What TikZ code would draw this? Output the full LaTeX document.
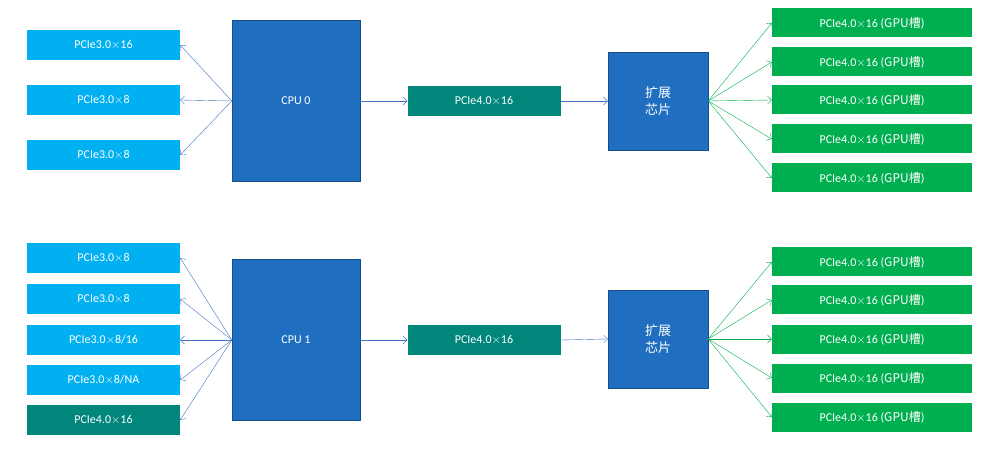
\documentclass[tikz,border=0pt]{standalone}
\usepackage{fontspec}
\setmainfont{Carlito}
\newfontfamily\cjk{Noto Sans CJK SC}
\usetikzlibrary{arrows.meta}
\definecolor{skyblue}{RGB}{0,176,240}
\definecolor{tealbox}{RGB}{0,134,122}
\definecolor{cpublue}{RGB}{32,110,192}
\definecolor{gpugreen}{RGB}{0,176,80}
\definecolor{linkblue}{RGB}{68,114,196}
\tikzset{
every node/.style={text=white, font=\fontsize{12}{14}\selectfont, inner sep=0pt},
slotnode/.style={rectangle, fill=skyblue, minimum width=153pt, minimum height=30pt},
tealnode/.style={rectangle, fill=tealbox, minimum width=153pt, minimum height=30pt},
cpunode/.style={rectangle, draw=cpublue!70!black, fill=cpublue, minimum width=128pt, minimum height=161pt},
chipnode/.style={rectangle, draw=cpublue!70!black, fill=cpublue, minimum width=100pt, minimum height=98pt, align=center, font=\cjk\fontsize{13}{17}\selectfont},
gpunode/.style={rectangle, fill=gpugreen, minimum width=200pt, minimum height=29pt},
bluelink/.style={draw=linkblue, thin, -{Straight Barb[length=4pt,width=8pt]}},
greenlink/.style={draw=gpugreen, thin, -{Straight Barb[length=4pt,width=8pt]}}
}
\newcommand{\gpulabel}{PCIe4.0$\times$16 ({\cjk GPU槽})}
\begin{document}
\begin{tikzpicture}[x=1pt, y=-1pt]
\useasboundingbox (0,0) rectangle (994,457);
%Top group
\node [cpunode] (CPU0) at (296,101) {CPU 0};
\node [slotnode] (Ta) at (103.5,45) {PCIe3.0$\times$16};
\node [slotnode] (Tb) at (103.5,100) {PCIe3.0$\times$8};
\node [slotnode] (Tc) at (103.5,155) {PCIe3.0$\times$8};
\node [tealnode] (Tlink) at (484,101) {PCIe4.0$\times$16};
\node [chipnode] (Tchip) at (658,101) {扩展\\芯片};
\foreach \i/\y in {1/23,2/62,3/100,4/139,5/178}
  \node [gpunode] (TG\i) at (872,\y) {\gpulabel};

%Bottom group
\node [cpunode] (CPU1) at (296,340) {CPU 1};
\node [slotnode] (Ba) at (103.5,258) {PCIe3.0$\times$8};
\node [slotnode] (Bb) at (103.5,299) {PCIe3.0$\times$8};
\node [slotnode] (Bc) at (103.5,340) {PCIe3.0$\times$8/16};
\node [slotnode] (Bd) at (103.5,380) {PCIe3.0$\times$8/NA};
\node [tealnode] (Be) at (103.5,420) {PCIe4.0$\times$16};
\node [tealnode] (Blink) at (484,340) {PCIe4.0$\times$16};
\node [chipnode] (Bchip) at (658,339) {扩展\\芯片};
\foreach \i/\y in {1/262,2/300,3/339,4/378,5/417}
  \node [gpunode] (BG\i) at (872,\y) {\gpulabel};

%Lines
\foreach \n in {Ta,Tb,Tc}
  \draw [bluelink] (CPU0.west) -- (\n.east);
\draw [bluelink] (CPU0.east) -- (Tlink.west);
\draw [bluelink] (Tlink.east) -- (Tchip.west);
\foreach \i in {1,...,5}
  \draw [greenlink] (Tchip.east) -- (TG\i.west);
\foreach \n in {Ba,Bb,Bc,Bd,Be}
  \draw [bluelink] (CPU1.west) -- (\n.east);
\draw [bluelink] (CPU1.east) -- (Blink.west);
\draw [bluelink] (Blink.east) -- (Bchip.west);
\foreach \i in {1,...,5}
  \draw [greenlink] (Bchip.east) -- (BG\i.west);
\end{tikzpicture}
\end{document}
